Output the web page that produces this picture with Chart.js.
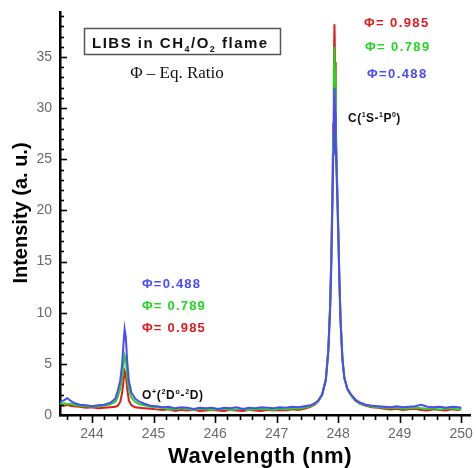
<!DOCTYPE html>
<html>
<head>
<meta charset="utf-8">
<script src="https://cdn.jsdelivr.net/npm/chart.js@4/dist/chart.umd.min.js"></script>
<style>
  body { margin: 0; background: #fff; }
  #wrap { width: 476px; height: 468px; position: relative; }
</style>
</head>
<body>
<div id="wrap"><canvas id="libs-chart"></canvas></div>
<script>
// wavelength grid (nm), denser around the two lines
const wavelength = [
  243.48, 243.55, 243.60, 243.65, 243.70, 243.80, 243.90, 244.00, 244.10, 244.20,
  244.30, 244.38, 244.42, 244.46, 244.49, 244.51, 244.53, 244.55, 244.57, 244.60,
  244.64, 244.70, 244.77, 244.85, 244.95, 245.05, 245.15, 245.25, 245.35, 245.45,
  245.55, 245.65, 245.75, 245.85, 245.95, 246.05, 246.15, 246.25, 246.35, 246.45,
  246.55, 246.65, 246.75, 246.85, 246.95, 247.05, 247.15, 247.25, 247.35, 247.45,
  247.55, 247.62, 247.68, 247.74, 247.80, 247.84, 247.87, 247.89, 247.91, 247.92,
  247.93, 247.94, 247.95, 247.96, 247.98, 248.00, 248.02, 248.04, 248.07, 248.10,
  248.15, 248.20, 248.28, 248.36, 248.45, 248.55, 248.65, 248.75, 248.85, 248.95,
  249.05, 249.15, 249.25, 249.35, 249.45, 249.55, 249.65, 249.75, 249.85, 249.95,
  250.00
];

// phi = 0.488
const blueSeries = [
  1.30, 1.45, 1.65, 1.40, 1.20, 1.00, 0.95, 0.85, 0.95, 1.00,
  1.20, 1.60, 2.40, 3.40, 5.00, 6.80, 8.40, 7.60, 5.40, 3.30,
  2.20, 1.60, 1.30, 1.10, 0.90, 0.85, 0.75, 0.80, 0.65, 0.75,
  0.70, 0.60, 0.70, 0.65, 0.70, 0.60, 0.70, 0.65, 0.75, 0.60,
  0.70, 0.65, 0.75, 0.70, 0.65, 0.75, 0.70, 0.80, 0.75, 0.85,
  0.95, 1.15, 1.45, 2.00, 3.40, 6.20, 10.5, 15.0, 21.5, 25.5,
  29.0, 32.0, 29.5, 26.5, 22.5, 18.0, 13.0, 9.00, 5.40, 3.70,
  2.60, 2.10, 1.50, 1.20, 1.00, 0.90, 0.85, 0.80, 0.75, 0.85,
  0.75, 0.80, 0.85, 1.00, 0.80, 0.75, 0.80, 0.70, 0.80, 0.75,
  0.70
];

// phi = 0.789
const greenSeries = [
  1.10, 1.15, 1.05, 1.10, 1.00, 0.90, 0.85, 0.80, 0.85, 0.90,
  1.05, 1.30, 1.80, 2.60, 3.60, 4.80, 5.80, 5.40, 3.90, 2.50,
  1.70, 1.30, 1.05, 0.95, 0.80, 0.75, 0.65, 0.60, 0.55, 0.65,
  0.55, 0.50, 0.60, 0.55, 0.50, 0.55, 0.60, 0.50, 0.55, 0.60,
  0.50, 0.55, 0.60, 0.55, 0.50, 0.60, 0.55, 0.65, 0.60, 0.70,
  0.85, 1.05, 1.40, 2.00, 3.50, 6.30, 10.6, 15.5, 22.5, 27.5,
  32.0, 36.0, 33.0, 28.0, 23.0, 18.5, 13.2, 9.10, 5.40, 3.60,
  2.50, 2.00, 1.45, 1.10, 0.95, 0.80, 0.75, 0.70, 0.65, 0.70,
  0.60, 0.65, 0.70, 0.65, 0.60, 0.65, 0.55, 0.60, 0.65, 0.55,
  0.60
];

// phi = 0.985
const redSeries = [
  0.95, 0.90, 1.00, 0.90, 0.85, 0.80, 0.70, 0.75, 0.65, 0.70,
  0.75, 0.80, 0.90, 1.30, 2.20, 3.20, 4.30, 4.00, 2.60, 1.40,
  0.95, 0.75, 0.70, 0.65, 0.60, 0.55, 0.50, 0.55, 0.40, 0.50,
  0.45, 0.50, 0.40, 0.45, 0.50, 0.45, 0.40, 0.50, 0.45, 0.40,
  0.50, 0.45, 0.40, 0.50, 0.45, 0.50, 0.45, 0.55, 0.50, 0.60,
  0.80, 1.00, 1.35, 2.00, 3.50, 6.40, 10.8, 16.0, 23.0, 28.5,
  33.5, 38.2, 34.5, 29.0, 23.5, 19.0, 13.5, 9.20, 5.50, 3.60,
  2.50, 2.00, 1.40, 1.10, 0.90, 0.75, 0.70, 0.60, 0.55, 0.60,
  0.50, 0.55, 0.60, 0.50, 0.45, 0.55, 0.50, 0.45, 0.55, 0.50,
  0.55
];

const xTicks = [244, 245, 246, 247, 248, 249, 250];
const yTicks = [0, 5, 10, 15, 20, 25, 30, 35];

const RED = 'rgb(226, 26, 30)';
const GREEN = 'rgb(34, 214, 34)';
const BLUE = 'rgb(74, 74, 255)';

function toPoints(ys) {
  return wavelength.map((w, i) => ({ x: w, y: ys[i] }));
}

// draw text made of normal / sub / sup pieces
function drawRich(ctx, parts, x, y, size, color, spacing) {
  ctx.fillStyle = color;
  ctx.textBaseline = 'alphabetic';
  ctx.textAlign = 'left';
  let cx = x;
  parts.forEach(p => {
    const s = p.sub || p.sup ? Math.round(size * 0.6) : size;
    ctx.font = 'bold ' + s + 'px "Liberation Sans", Arial, sans-serif';
    ctx.letterSpacing = spacing + 'px';
    const dy = p.sub ? size * 0.28 : (p.sup ? -size * 0.45 : 0);
    ctx.fillText(p.t, cx, y + dy);
    cx += ctx.measureText(p.t).width;
  });
  ctx.letterSpacing = '0px';
}

const annotations = {
  id: 'annotations',
  afterDraw(chart) {
    const ctx = chart.ctx;
    const xs = chart.scales.x;
    const ys = chart.scales.y;
    const area = chart.chartArea;
    ctx.save();

    // minor + major ticks
    ctx.strokeStyle = '#000';
    ctx.lineWidth = 1.6;
    for (let v = 0; v <= 39; v++) {
      const py = Math.round(ys.getPixelForValue(v)) + 0.5;
      const len = v % 5 === 0 ? 7 : 4;
      ctx.beginPath();
      ctx.moveTo(area.left - 1, py);
      ctx.lineTo(area.left + len, py);
      ctx.stroke();
    }
    for (let k = 0; k <= 33; k++) {
      const v = 243.6 + k * 0.2;
      if (v > 250.1) break;
      const px = Math.round(xs.getPixelForValue(v)) + 0.5;
      const major = Math.abs(v - Math.round(v)) < 0.01;
      ctx.beginPath();
      ctx.moveTo(px, area.bottom);
      ctx.lineTo(px, area.bottom + (major ? 8 : 5));
      ctx.stroke();
    }

    // title box
    ctx.fillStyle = '#fff';
    ctx.fillRect(84, 28, 197, 27);
    ctx.strokeStyle = '#555';
    ctx.lineWidth = 1.5;
    ctx.strokeRect(84.5, 28.5, 196, 26);
    drawRich(ctx, [{ t: 'LIBS in CH' }, { t: '4', sub: true }, { t: '/O' }, { t: '2', sub: true }, { t: ' flame' }],
      92, 48, 15, '#111', 1.5);

    ctx.font = '17px "Liberation Serif", "Times New Roman", serif';
    ctx.fillStyle = '#111';
    ctx.textAlign = 'center';
    ctx.fillText('\u03A6 \u2013 Eq. Ratio', 177, 78);

    // phi labels near the C line
    drawRich(ctx, [{ t: '\u03A6= 0.985' }], 364, 27, 13, RED, 1.4);
    drawRich(ctx, [{ t: '\u03A6= 0.789' }], 365, 51, 13, GREEN, 1.4);
    drawRich(ctx, [{ t: '\u03A6=0.488' }], 367, 78, 13, BLUE, 1.4);
    drawRich(ctx, [{ t: 'C(' }, { t: '1', sup: true }, { t: 'S-' }, { t: '1', sup: true }, { t: 'P' }, { t: '0', sup: true }, { t: ')' }],
      348, 122, 12, '#111', 0.5);

    // phi labels near the O+ line
    drawRich(ctx, [{ t: '\u03A6=0.488' }], 142, 288, 13, BLUE, 1.2);
    drawRich(ctx, [{ t: '\u03A6= 0.789' }], 142, 310, 13, GREEN, 1.2);
    drawRich(ctx, [{ t: '\u03A6= 0.985' }], 142, 332, 13, RED, 1.2);
    drawRich(ctx, [{ t: 'O' }, { t: '+', sup: true }, { t: '(' }, { t: '2', sup: true }, { t: 'D' }, { t: 'o', sup: true }, { t: '-' }, { t: '2', sup: true }, { t: 'D)' }],
      142, 399, 12, '#111', 0.7);

    // axis titles
    ctx.fillStyle = '#000';
    ctx.textAlign = 'center';
    ctx.textBaseline = 'middle';
    ctx.font = 'bold 22px "Liberation Sans", Arial, sans-serif';
    ctx.letterSpacing = '0.5px';
    ctx.fillText('Wavelength (nm)', 260, 457);
    ctx.save();
    ctx.translate(21, 213);
    ctx.rotate(-Math.PI / 2);
    ctx.font = 'bold 20px "Liberation Sans", Arial, sans-serif';
    ctx.letterSpacing = '0px';
    ctx.fillText('Intensity (a. u.)', 0, 0);
    ctx.restore();

    ctx.restore();
  }
};

const tickFont = { family: '"Liberation Sans", Arial, sans-serif', size: 14 };

new Chart(document.getElementById('libs-chart'), {
  type: 'line',
  data: {
    datasets: [
      { label: '\u03A6=0.488', data: toPoints(blueSeries), borderColor: BLUE },
      { label: '\u03A6=0.789', data: toPoints(greenSeries), borderColor: GREEN },
      { label: '\u03A6=0.985', data: toPoints(redSeries), borderColor: RED }
    ]
  },
  options: {
    responsive: true,
    maintainAspectRatio: false,
    animation: false,
    layout: { padding: { top: 12, right: 4, left: 0, bottom: 0 } },
    elements: {
      point: { radius: 0 },
      line: { borderWidth: 2, tension: 0 }
    },
    plugins: {
      legend: { display: false },
      tooltip: { enabled: false }
    },
    scales: {
      x: {
        type: 'linear',
        min: 243.48,
        max: 250.15,
        afterBuildTicks: s => { s.ticks = xTicks.map(v => ({ value: v })); },
        afterFit: s => { s.height = 53; },
        ticks: { font: tickFont, color: '#6a6a6a', padding: 3, maxRotation: 0 },
        grid: { display: false, drawTicks: true, tickLength: 8 },
        border: { color: '#000', width: 2.5 }
      },
      y: {
        min: 0,
        max: 39.4,
        afterBuildTicks: s => { s.ticks = yTicks.map(v => ({ value: v })); },
        afterFit: s => { s.width = 60; },
        ticks: { font: tickFont, color: '#6a6a6a', padding: 1 },
        grid: { display: false, drawTicks: true, tickLength: 7 },
        border: { color: '#000', width: 2.5 }
      }
    }
  },
  plugins: [annotations]
});
</script>
</body>
</html>
